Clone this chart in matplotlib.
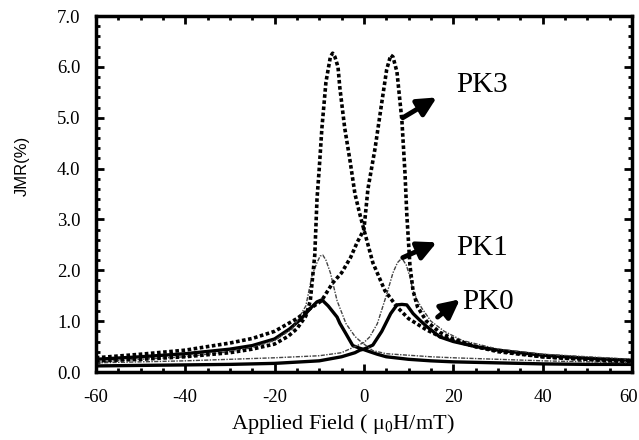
import numpy as np
import matplotlib.pyplot as plt
from matplotlib.ticker import MultipleLocator
from matplotlib.transforms import ScaledTranslation

plt.rcParams["font.family"] = ["Liberation Serif", "DejaVu Serif"]
plt.rcParams["mathtext.fontset"] = "custom"
plt.rcParams["mathtext.rm"] = "Liberation Serif"

# PK3 (peak at negative field, sweep + -> -)
pk3a_x = [-60, -50, -40, -30, -25, -20, -17, -15, -13, -12, -11, -10.5, -10, -9.4, -8.5, -7.5, -7,
          -6.5, -5.8, -5.4, -4.3, -3.1, -2, -0.9, 0, 2, 4.7, 7.4, 10, 14, 17, 20, 25, 30, 35, 40, 45, 50, 55, 60]
pk3a_y = [0.22, 0.25, 0.3, 0.38, 0.45, 0.55, 0.7, 0.85, 1.1, 1.4, 2.3, 3.4, 4.0, 4.8, 5.7, 6.2, 6.27,
          6.2, 6.0, 5.6, 4.8, 4.15, 3.5, 3.1, 2.8, 2.15, 1.6, 1.28, 1.05, 0.83, 0.7, 0.62, 0.5, 0.42, 0.36, 0.3, 0.27, 0.25, 0.22, 0.2]
# PK3 (peak at positive field)
pk3b_x = [-60, -50, -40, -30, -25, -20, -15, -12, -9.5, -7, -5, -3, -1.5, 0, 0.9, 2.5, 4, 5.1, 6, 6.5,
          7.4, 8.5, 9.2, 9.6, 10.3, 11, 12, 14, 17, 20, 25, 30, 40, 50, 60]
pk3b_y = [0.28, 0.35, 0.43, 0.57, 0.66, 0.8, 1.05, 1.25, 1.4, 1.75, 1.95, 2.25, 2.55, 2.8, 3.6, 4.4, 5.3, 5.95, 6.23, 6.2,
          5.9, 4.95, 3.9, 3.1, 2.1, 1.6, 1.28, 1.0, 0.78, 0.65, 0.5, 0.4, 0.3, 0.25, 0.22]

# PK1
pk1a_x = [-60, -50, -40, -30, -25, -20, -16, -13, -11.6, -10.5, -9.8, -9.2, -8.5, -7.5, -6, -4, -2, -1,
          0, 2, 5, 10, 15, 20, 30, 40, 50, 60]
pk1a_y = [0.2, 0.25, 0.3, 0.4, 0.48, 0.62, 0.85, 1.3, 1.9, 2.15, 2.28, 2.3, 2.2, 1.95, 1.4, 0.95, 0.7, 0.62,
          0.55, 0.42, 0.36, 0.33, 0.3, 0.28, 0.25, 0.22, 0.2, 0.18]
pk1b_x = [-60, -50, -40, -30, -20, -10, -5, -2, 0, 1.3, 3, 5, 6.5, 7.5, 8.5, 9.5, 10.2, 11, 12, 13,
          15, 18, 22, 30, 40, 50, 60]
pk1b_y = [0.18, 0.2, 0.22, 0.25, 0.28, 0.32, 0.38, 0.5, 0.58, 0.69, 0.95, 1.5, 1.95, 2.15, 2.24, 2.1, 1.9, 1.6, 1.4, 1.25,
          1.0, 0.8, 0.62, 0.45, 0.35, 0.3, 0.25]

# PK0
pk0a_x = [-60, -50, -40, -30, -25, -20, -16.6, -14, -12, -10.5, -9.4, -8, -6, -5.4, -4, -2.5, -1, 0, 1.3,
          3, 5, 8, 10, 15, 20, 30, 40, 50, 60]
pk0a_y = [0.25, 0.3, 0.36, 0.45, 0.52, 0.65, 0.85, 1.05, 1.25, 1.38, 1.42, 1.3, 1.08, 0.96, 0.75, 0.52, 0.47, 0.44, 0.4,
          0.35, 0.3, 0.27, 0.25, 0.22, 0.2, 0.18, 0.16, 0.15, 0.15]
pk0b_x = [-60, -50, -40, -30, -20, -10, -5, -2, -0.9, 0, 2, 4, 6, 7.4, 8.5, 9.6, 11, 12.5, 14, 17,
          20, 25, 30, 35, 40, 45, 50, 55, 60]
pk0b_y = [0.12, 0.13, 0.14, 0.15, 0.17, 0.22, 0.3, 0.38, 0.43, 0.45, 0.53, 0.8, 1.15, 1.32, 1.33, 1.32, 1.15, 1.02, 0.9, 0.69,
          0.6, 0.5, 0.43, 0.38, 0.33, 0.3, 0.27, 0.25, 0.23]

fig = plt.figure(figsize=(6.39, 4.40), dpi=100)
ax = fig.add_axes([0.150, 0.1545, 0.839, 0.809])

# PK0 solid
ax.plot(pk0a_x, pk0a_y, color="black", lw=2.4)
ax.plot(pk0b_x, pk0b_y, color="black", lw=2.4)
# PK1 thin dash-dot
ax.plot(pk1a_x, pk1a_y, color="#444444", lw=1.0, ls=(0, (3, 1, 1, 1)))
ax.plot(pk1b_x, pk1b_y, color="#444444", lw=1.0, ls=(0, (3, 1, 1, 1)))
# PK3 heavy dots
ax.plot(pk3a_x, pk3a_y, color="black", lw=2.6, ls=(0, (1, 0.7)))
ax.plot(pk3b_x, pk3b_y, color="black", lw=2.6, ls=(0, (1, 0.7)))

ax.set_xlim(-60, 60)
ax.set_ylim(0, 7)
ax.xaxis.set_minor_locator(MultipleLocator(5))
ax.yaxis.set_minor_locator(MultipleLocator(0.2))
ax.set_yticks(np.arange(0, 8, 1.0))
ax.set_yticklabels(["%.1f" % v for v in np.arange(0, 8, 1.0)])
ax.set_xticks([-60, -40, -20, 0, 20, 40, 60])
ax.set_xticklabels(["-60", "-40", "-20", "0", "20", "40", "60"])
ax.tick_params(which="both", direction="in", top=True, right=True, width=2)
ax.tick_params(which="major", length=6, labelsize=13.5)
ax.tick_params(which="minor", length=3)
ax.tick_params(axis="x", pad=12)
ax.tick_params(axis="y", pad=11)
for s in ax.spines.values():
    s.set_linewidth(2.5)
# nudge the last x label so it stays inside the figure
last = ax.get_xticklabels()[-1]
last.set_transform(last.get_transform() + ScaledTranslation(-3 / 100, 0, fig.dpi_scale_trans))

fig.text(22 / 639, 1 - 166 / 440, "JMR(%)", family=["Liberation Sans", "DejaVu Sans"], fontsize=12,
         rotation=90, ha="center", va="center")
fig.text(343 / 639, 1 - 424 / 440, "Applied Field ( $\\mathregular{\\mu_0}$H/mT)", fontsize=16,
         ha="center", va="center")

arrow = dict(arrowstyle="-|>", lw=3.5, color="black", mutation_scale=28, shrinkA=0, shrinkB=0)
ax.annotate("", xy=(16.3, 5.4), xytext=(8.7, 5.0), arrowprops=arrow)
ax.annotate("", xy=(16.3, 2.55), xytext=(8.7, 2.25), arrowprops=arrow)
ax.annotate("", xy=(21.5, 1.43), xytext=(16.5, 1.08), arrowprops=arrow)
ax.text(20.7, 5.65, "PK3", fontsize=21, va="center", ha="left")
ax.text(20.7, 2.43, "PK1", fontsize=21, va="center", ha="left")
ax.text(22.0, 1.38, "PK0", fontsize=21, va="center", ha="left")

plt.savefig("out.png", dpi=100)
